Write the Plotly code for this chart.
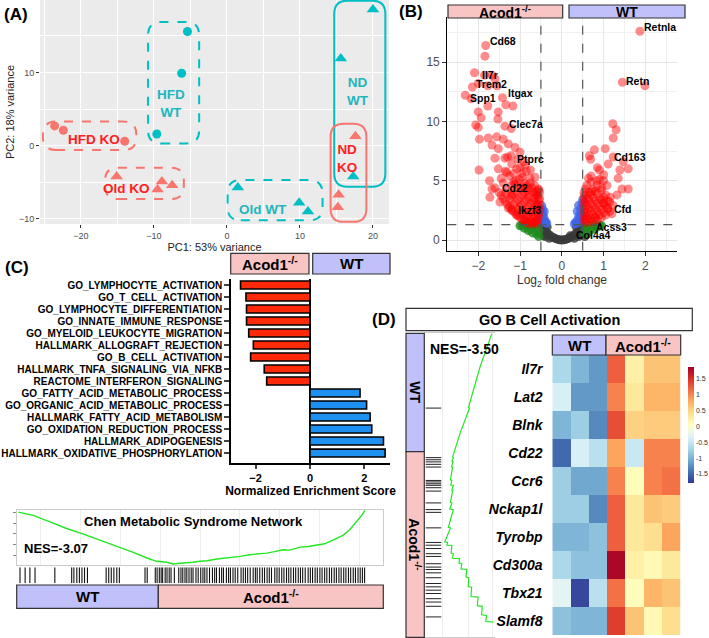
import plotly.graph_objects as go

W, H = 709, 638


def px(x):
    return x / W


def py(y):
    return 1 - y / H


FONT = "Liberation Sans, Arial, Helvetica, sans-serif"
TEAL = "#00BFC4"
SALMON = "#F8766D"
LAV = "#C0C0FA"
PINK = "#F9C4C4"
KO_SUP = "Acod1<sup>-/-</sup>"

# ---------------- (A) PCA ----------------
pca_group = ["HFD WT"] * 3 + ["HFD KO"] * 3 + ["Old KO"] * 4 + ["Old WT"] * 3 + ["ND WT"] * 3 + ["ND KO"] * 3
pca_x = [-5.4, -6.2, -9.6, -23.6, -22.4, -14.0, -15.1, -8.9, -9.5, -7.5, 1.5, 9.9, 11.1, 20.0, 15.6, 17.3, 17.6, 15.3, 15.2]
pca_y = [15.6, 9.9, 1.6, 2.7, 2.1, 0.6, -4.2, -4.9, -6.0, -5.4, -5.7, -7.8, -9.0, 18.6, 11.9, -4.2, 1.3, -6.7, -8.4]
pca_groups = ["HFD WT", "HFD KO", "Old KO", "Old WT", "ND WT", "ND KO"]
pca_labels = {"HFD WT": "HFD<br>WT", "HFD KO": "HFD KO", "Old KO": "Old KO",
              "Old WT": "Old WT", "ND WT": "ND<br>WT", "ND KO": "ND<br>KO"}

# ---------------- (B) volcano ----------------
vol_red_x = [-1.82, -1.84, -2.09, -1.85, -1.67, -1.60, -2.0, -1.77, -1.55, -2.14, -2.31, -2.17, -1.42, -1.77,
             -1.34, -1.17, -2.0, -1.52, -1.93, -1.53, -2.06, -1.36, -2.0, -1.21, -1.97, -1.76, -1.56, -1.40,
             -1.67, -1.28, -1.52, -1.12, -1.0, -1.21, -1.36, -1.6, -1.52, -1.98, -1.32, -1.08, -0.88, -1.73,
             -0.76, -0.64, -1.67, -1.72, -1.48, -1.28, -1.08, -0.88, -0.68, -0.56, -0.64, -0.8, -0.96, -0.84,
             -0.56, -1.2, -1.6, -1.2,
             -1.5, -1.4, -1.3, -1.2, -1.1, -1.0, -0.9, -0.8, -0.7, -0.6, -1.3, -1.2, -1.1, -1.0, -0.9, -0.8,
             -0.7, -0.6, -0.55, -1.2, -1.1, -1.0, -0.9, -0.8, -0.7, -0.6, -0.55, -1.0, -0.9, -0.8, -0.7, -0.6,
             -0.55, -0.9, -0.8, -0.7, -0.6, -0.55, -1.1, -0.95, -0.75, -0.65, -1.25, -1.4, -1.35, -1.15, -1.0,
             -1.2, -1.05, -1.3, -0.9, -0.85, -1.45, -1.15, -0.95, -0.75, -0.62,
             -1.45, -1.35, -1.25, -1.15, -1.05, -0.95, -0.85, -0.75, -0.65, -0.58, -1.35, -1.25, -1.15, -1.05,
             -0.95, -0.85, -0.75, -0.65, -0.58, -1.15, -1.05, -0.95, -0.85, -0.75, -0.65, -0.58, -0.95, -0.85,
             -0.75, -0.65, -0.58, -0.53, -0.53, -0.53, -0.53, -0.62, -0.72, -0.82, -0.92, -1.02, -1.12,
             1.87, 1.45, 1.99, 1.22, 1.30, 1.23, 1.04, 0.78, 0.66, 0.69, 1.23, 1.11, 1.47, 1.39, 1.59, 1.35,
             0.85, 0.90, 1.0, 0.64, 0.84, 1.08, 1.44, 1.59, 1.32, 1.16, 1.23, 0.56, 0.72, 1.1,
             0.55, 0.65, 0.75, 0.85, 0.95, 1.05, 1.15, 0.55, 0.65, 0.75, 0.85, 0.95, 1.05, 0.55, 0.65, 0.75,
             0.85, 0.95, 1.05, 0.55, 0.65, 0.75, 0.85, 0.95, 0.55, 0.65, 0.75, 0.85, 0.6, 0.7, 0.9, 1.0,
             0.6, 0.8, 1.0, 1.1, 0.7,
             0.6, 0.7, 0.8, 0.9, 1.0, 1.1, 0.6, 0.7, 0.8, 0.9, 1.0, 0.6, 0.7, 0.8, 0.9, 1.0, 0.6, 0.7, 0.8,
             0.53, 0.53, 0.53, 0.53, 0.53, 1.15, 1.2, 0.95]
vol_red_y = [16.4, 15.5, 14.1, 13.9, 13.9, 13.6, 13.2, 13.0, 13.0, 12.9, 12.2, 11.9, 12.0, 11.3,
             11.4, 11.3, 10.8, 10.8, 10.3, 10.2, 9.7, 9.6, 9.5, 9.4, 8.5, 8.6, 8.7, 8.5,
             8.0, 8.1, 7.7, 7.8, 7.4, 7.1, 6.9, 6.9, 6.0, 5.9, 5.7, 6.0, 6.3, 5.0,
             5.2, 5.3, 4.3, 3.6, 3.2, 2.7, 2.1, 1.7, 1.5, 2.2, 3.2, 3.8, 4.3, 4.6,
             4.3, 3.8, 4.4, 2.5,
             4.0, 3.5, 3.0, 2.6, 2.2, 1.9, 1.6, 1.4, 1.35, 1.4, 4.2, 3.7, 3.2, 2.8, 2.4, 2.1,
             1.8, 1.7, 2.0, 4.6, 4.1, 3.6, 3.2, 2.8, 2.5, 2.4, 2.7, 4.4, 4.0, 3.6, 3.2, 3.0,
             3.4, 4.8, 4.4, 4.0, 3.8, 4.2, 5.0, 5.3, 4.8, 4.6, 5.4, 4.8, 5.8, 5.6, 6.1,
             6.4, 6.8, 7.0, 6.6, 5.8, 5.2, 4.9, 5.6, 5.9, 3.9,
             3.75, 3.25, 2.8, 2.4, 2.05, 1.75, 1.5, 1.5, 1.55, 1.6, 3.95, 3.45, 3.0, 2.6,
             2.25, 1.95, 1.95, 2.05, 2.3, 3.9, 3.4, 2.95, 2.6, 2.35, 2.6, 2.9, 3.8, 3.4,
             3.1, 3.5, 3.7, 2.5, 3.0, 3.5, 4.0, 4.1, 4.4, 4.2, 4.5, 5.1, 4.7,
             17.6, 13.3, 13.0, 9.8, 9.3, 8.6, 7.7, 7.6, 7.1, 6.8, 7.0, 6.4, 6.6, 5.9, 6.0, 5.2,
             6.1, 5.9, 5.5, 5.2, 5.0, 4.6, 4.3, 4.3, 3.8, 3.6, 2.9, 4.3, 4.1, 2.6,
             1.5, 1.5, 1.55, 1.7, 1.9, 2.1, 2.4, 2.0, 2.1, 2.2, 2.4, 2.6, 2.9, 2.6, 2.7, 2.9,
             3.1, 3.4, 3.8, 3.2, 3.4, 3.6, 3.9, 4.2, 3.8, 4.0, 4.3, 4.6, 4.6, 4.9, 5.1, 5.0,
             1.8, 1.9, 3.1, 3.3, 5.4,
             1.75, 1.8, 1.9, 2.1, 2.3, 2.7, 2.35, 2.45, 2.6, 2.8, 3.1, 2.95, 3.05, 3.3, 3.5, 3.6, 3.5, 3.8, 4.1,
             1.7, 2.3, 2.9, 3.5, 4.0, 3.2, 2.2, 4.4]
vol_blue_x = [-0.5, -0.48, -0.46, -0.45, -0.43, -0.42, -0.40, -0.38, -0.36, -0.47, -0.44, -0.49,
              0.30, 0.33, 0.35, 0.38, 0.41, 0.44, 0.46, 0.48, 0.5, 0.45, 0.48, 0.42, 0.37, 0.40]
vol_blue_y = [2.4, 2.9, 2.6, 2.2, 1.9, 2.4, 1.6, 1.5, 1.4, 2.0, 1.5, 1.7,
              1.35, 1.5, 1.4, 1.7, 2.0, 2.3, 2.7, 3.1, 3.4, 1.8, 2.2, 1.5, 2.4, 2.9]
vol_green_x = [-1.0, -0.9, -0.8, -0.7, -0.6, -0.55, -0.85, -0.7, -0.6, -0.55, -0.75, -0.95,
               0.55, 0.65, 0.75, 0.85, 0.95, 0.6, 0.7, 0.55, 0.8, 0.9, 0.7]
vol_green_y = [1.2, 1.0, 0.8, 0.6, 0.5, 0.3, 1.2, 1.1, 1.0, 0.8, 0.9, 1.25,
               0.5, 0.7, 0.9, 1.1, 1.2, 1.0, 1.2, 0.9, 1.2, 1.25, 1.0]
vol_grey_x = [-0.5, -0.45, -0.4, -0.35, -0.3, -0.25, -0.2, -0.15, -0.1, -0.05, 0.0, 0.05, 0.1, 0.15, 0.2,
              0.25, 0.3, 0.35, 0.4, 0.45, 0.5, -0.5, -0.4, 0.4, 0.5, -0.45, -0.3, 0.3, 0.55, 0.6, 0.45,
              -0.35, 0.2, 0.35, 0.5]
vol_grey_y = [1.2, 1.0, 0.8, 0.6, 0.45, 0.3, 0.2, 0.12, 0.05, 0.02, 0.0, 0.02, 0.05, 0.12, 0.2,
              0.3, 0.45, 0.6, 0.8, 1.0, 1.2, 0.6, 0.3, 0.3, 0.6, 0.4, 0.15, 0.15, 0.3, 0.5, 0.55,
              1.1, 0.35, 1.1, 0.9]
vol_genes = ["Retnla", "Retn", "Cd68", "Il7r", "Trem2", "Spp1", "Itgax", "Clec7a", "Ptprc", "Cd22",
             "Ikzf3", "Cd163", "Cfd", "Acss3", "Col4a4"]
vol_gene_x = [1.87, 1.45, -1.82, -2.09, -2.14, -2.31, -1.42, -1.53, -1.21, -1.6, -1.2, 1.11, 1.1, 0.7, 0.25]
vol_gene_y = [17.6, 13.3, 16.4, 14.1, 12.9, 12.2, 12.0, 10.2, 7.1, 4.4, 2.5, 6.9, 2.6, 1.0, 0.35]
fc_cut, p_cut = 0.5, 1.3

# ---------------- (C) GSEA bars ----------------
gsea_terms = ["GO_LYMPHOCYTE_ACTIVATION", "GO_T_CELL_ACTIVATION", "GO_LYMPHOCYTE_DIFFERENTIATION",
              "GO_INNATE_IMMUNE_RESPONSE", "GO_MYELOID_LEUKOCYTE_MIGRATION", "HALLMARK_ALLOGRAFT_REJECTION",
              "GO_B_CELL_ACTIVATION", "HALLMARK_TNFA_SIGNALING_VIA_NFKB", "REACTOME_INTERFERON_SIGNALING",
              "GO_FATTY_ACID_METABOLIC_PROCESS", "GO_ORGANIC_ACID_METABOLIC_PROCESS",
              "HALLMARK_FATTY_ACID_METABOLISM", "GO_OXIDATION_REDUCTION_PROCESS", "HALLMARK_ADIPOGENESIS",
              "HALLMARK_OXIDATIVE_PHOSPHORYLATION"]
gsea_nes = [-2.55, -2.35, -2.33, -2.33, -2.25, -2.08, -2.18, -1.68, -1.59, 1.84, 2.08, 2.21, 2.27, 2.70, 2.76]

# Chen metabolic syndrome running ES
chen_rank = [0.4, 4.5, 9.1, 13.6, 18.2, 22.7, 27.3, 31.8, 35.5, 38.2, 40.9, 42.7, 44.5, 46.4, 48.0, 50.0,
             52.0, 54.6, 56.5, 59.1, 61.0, 63.6, 66.0, 68.2, 70.0, 72.7, 74.5, 77.3, 79.5, 81.8, 84.0,
             86.4, 88.0, 89.1, 90.9, 92.7, 94.1, 95.0]
chen_es = [-0.018, -0.055, -0.127, -0.2, -0.262, -0.327, -0.393, -0.465, -0.527, -0.564, -0.575, -0.593,
           -0.585, -0.582, -0.575, -0.564, -0.558, -0.538, -0.532, -0.516, -0.51, -0.491, -0.485, -0.473,
           -0.46, -0.436, -0.44, -0.407, -0.40, -0.382, -0.37, -0.327, -0.30, -0.273, -0.211, -0.127,
           -0.055, 0.0]
chen_hits = [0.9, 2.3, 3.6, 5.0, 10.4, 15.0, 15.6, 16.4, 17.1, 17.8, 18.5, 19.3, 24.4, 25.1, 25.8, 26.5,
             27.3, 28.0, 35.0, 35.6,
             37.8, 38.3, 38.9, 39.4, 39.8, 40.5, 41.0, 41.6, 42.1, 43.0, 44.2, 44.8, 45.3, 45.9, 46.4, 47.0,
             47.6, 48.1, 48.9, 49.5, 50.2, 50.8, 51.3, 51.9, 52.6, 53.4, 54.0, 54.5, 55.3, 55.9, 56.4, 57.2,
             57.8, 58.3, 59.0, 59.6, 60.3, 61.2, 61.8, 62.4, 63.0, 63.7, 64.5, 65.1, 65.6, 66.3, 67.0, 67.6,
             68.3, 68.9, 69.5, 70.4, 71.0, 71.6, 72.3, 72.9, 73.6, 74.2, 74.8, 75.5, 76.1, 76.8, 77.4, 78.0,
             78.7, 79.5, 80.1, 80.7, 81.4, 82.0, 82.7, 83.3, 84.0, 84.6, 85.3, 85.9, 86.6, 87.2, 87.9, 88.5,
             89.2, 89.8, 90.5, 91.1, 91.8, 92.4, 93.1, 93.7, 94.3, 94.9]

# ---------------- (D) GO B cell activation ----------------
bcell_rank = [0.1, 11.1, 24.4, 24.6, 33.0, 40.7, 40.9, 42.1, 42.3, 43.9, 44.0, 48.2, 48.4, 49.9, 50.0,
              51.7, 51.9, 55.6, 55.8, 57.8, 58.0, 63.8, 64.0, 68.6, 68.8, 69.7, 69.8, 72.3, 72.5, 74.0,
              74.1, 75.6, 75.8, 77.5, 77.7, 80.2, 80.4, 83.3, 83.5, 86.6, 86.8, 89.6, 89.8, 92.6, 92.8,
              94.8, 95.0]
bcell_es = [0.955, 0.788, 0.625, 0.64, 0.505, 0.40, 0.41, 0.39, 0.405, 0.385, 0.40, 0.37, 0.39, 0.375,
            0.41, 0.39, 0.40, 0.37, 0.39, 0.36, 0.41, 0.34, 0.37, 0.29, 0.33, 0.32, 0.39, 0.38, 0.41, 0.40,
            0.50, 0.49, 0.53, 0.52, 0.60, 0.59, 0.63, 0.62, 0.67, 0.66, 0.76, 0.75, 0.82, 0.81, 0.88,
            0.87, 0.976]
bcell_hits = [24.6, 40.9, 41.6, 42.3, 43.1, 44.0, 48.4, 48.9, 49.5, 50.0, 50.8, 51.9, 55.8, 58.0, 58.9,
              64.0, 68.8, 69.7, 70.8, 72.5, 73.4, 75.8, 76.9, 77.7, 78.8, 80.4, 82.3, 83.4, 84.5, 85.6,
              87.3, 88.4, 89.8, 93.3]

hm_genes = ["Il7r", "Lat2", "Blnk", "Cd22", "Ccr6", "Nckap1l", "Tyrobp", "Cd300a", "Tbx21", "Slamf8"]
hm_samples = ["WT1", "WT2", "WT3", "KO1", "KO2", "KO3", "KO4"]
hm_z = [
    [-0.7, -1.0, -1.2, 1.2, 0.2, 0.6, 0.6],
    [-0.4, -1.2, -1.2, 1.0, 0.3, 0.7, 0.7],
    [-1.0, -0.8, -1.3, 1.3, 0.5, 0.55, 0.55],
    [-1.5, -0.4, -0.6, 0.8, -0.5, 1.0, 1.0],
    [-0.8, -1.1, -1.1, 1.0, 0.05, 1.0, 1.1],
    [-0.8, -0.8, -1.3, 1.2, 0.3, 0.6, 0.55],
    [-1.0, -1.0, -0.9, 1.2, 0.3, 0.4, 0.8],
    [-0.7, -0.9, -0.9, 1.8, 0.2, 0.1, 0.3],
    [-0.3, -1.7, -0.6, 1.1, 0.05, 0.7, 0.6],
    [-0.9, -1.0, -1.0, 1.4, 0.6, 0.1, 0.4],
]
rdylbu_r = ["#313695", "#4575B4", "#74ADD1", "#ABD9E9", "#E0F3F8", "#FFFFBF",
            "#FEE090", "#FDAE61", "#F46D43", "#D73027", "#A50026"]

fig = go.Figure()
shapes = []
annotations = []


def ann(x, y, text, size=12, color="black", bold=True, xanchor="center", angle=0, xref="paper", yref="paper",
        italic=False, **kw):
    t = text
    if italic:
        t = "<i>" + t + "</i>"
    if bold:
        t = "<b>" + t + "</b>"
    annotations.append(dict(x=x, y=y, xref=xref, yref=yref, text=t, showarrow=False, xanchor=xanchor,
                            yanchor="middle", textangle=angle, font=dict(size=size, color=color, family=FONT),
                            **kw))


def box(x0, y0, x1, y1, fill, text="", size=15, angle=0, lw=1.2):
    shapes.append(dict(type="rect", xref="paper", yref="paper", x0=px(x0), x1=px(x1), y0=py(y1), y1=py(y0),
                       fillcolor=fill, line=dict(color="#333333", width=lw), layer="above"))
    if text:
        ann(px((x0 + x1) / 2), py((y0 + y1) / 2), text, size=size, angle=angle)


# ---- (A) ----
shapes.append(dict(type="rect", xref="x domain", yref="y domain", x0=0, x1=1, y0=0, y1=1,
                   fillcolor="#EBEBEB", line=dict(width=0), layer="below"))
group_pad = {"HFD WT": (1.2, 1.6, 1.3, 1.3), "HFD KO": (1.6, 1.6, 1.2, 0.6), "Old KO": (1.6, 1.6, 1.3, 1.2),
             "Old WT": (1.4, 2.0, 1.2, 1.0), "ND WT": (0.9, 1.7, 1.4, 1.2), "ND KO": (1.0, 1.5, 2.0, 1.7)}
label_pos = {"HFD WT": (-7.7, 5.7), "HFD KO": (-18.2, 0.8), "Old KO": (-13.7, -5.8),
             "Old WT": (5.0, -8.7), "ND WT": (18.0, 7.4), "ND KO": (16.4, -1.7)}


def rrect(x0, x1, y0, y1, r):
    return (f"M{x0 + r},{y0} L{x1 - r},{y0} Q{x1},{y0} {x1},{y0 + r} L{x1},{y1 - r} Q{x1},{y1} {x1 - r},{y1} "
            f"L{x0 + r},{y1} Q{x0},{y1} {x0},{y1 - r} L{x0},{y0 + r} Q{x0},{y0} {x0 + r},{y0} Z")


for g in pca_groups:
    xs = [x for x, gg in zip(pca_x, pca_group) if gg == g]
    ys = [y for y, gg in zip(pca_y, pca_group) if gg == g]
    wt = g.endswith("WT")
    col = TEAL if wt else SALMON
    fig.add_trace(go.Scatter(x=xs, y=ys, mode="markers", xaxis="x", yaxis="y",
                             marker=dict(color=col, size=9 if g.startswith("HFD") else 11,
                                         symbol="circle" if g.startswith("HFD") else "triangle-up"),
                             hoverinfo="skip"))
    pl, pr, pb, pt = group_pad[g]
    shapes.append(dict(type="path", xref="x", yref="y",
                       path=rrect(min(xs) - pl, max(xs) + pr, min(ys) - pb, max(ys) + pt, 1.8),
                       line=dict(color=col, width=2, dash="solid" if g.startswith("ND") else "dash")))
    lx, ly = label_pos[g]
    ann(lx, ly, pca_labels[g], size=13.5, color="#1DB6BF" if wt else "#FF2020", xref="x", yref="y")

ann(px(16), py(14), "(A)", size=17)
ann(px(411), py(12), "(B)", size=17)
ann(px(17), py(267), "(C)", size=17)
ann(px(384), py(320), "(D)", size=17)

# ---- (B) ----
for xs, ys, col, op in [(vol_grey_x, vol_grey_y, "#3A3A3A", 0.8), (vol_green_x, vol_green_y, "#1E8C1E", 0.8),
                        (vol_blue_x, vol_blue_y, "#3C64E6", 0.7), (vol_red_x, vol_red_y, "#FF0000", 0.45)]:
    fig.add_trace(go.Scatter(x=xs, y=ys, mode="markers", xaxis="x2", yaxis="y2",
                             marker=dict(color=col, size=9, opacity=op, line=dict(width=0)),
                             hoverinfo="skip"))
label_shift = {"Retnla": (2, 4), "Retn": (2, 1), "Cd68": (2, 4), "Il7r": (6, -2), "Trem2": (2, 3),
               "Spp1": (3, -3), "Itgax": (4, 5), "Clec7a": (9, -5), "Ptprc": (4, -3), "Cd22": (5, 0),
               "Ikzf3": (4, 0), "Cd163": (4, 1), "Cfd": (4, 0), "Acss3": (3, 1), "Col4a4": (2, 1)}
for gname, gx, gy in zip(vol_genes, vol_gene_x, vol_gene_y):
    dx, dy = label_shift[gname]
    ann(gx, gy, gname, size=10.5, xref="x2", yref="y2", xanchor="left", xshift=dx, yshift=dy)
for xv in (-fc_cut, fc_cut):
    shapes.append(dict(type="line", xref="x2", yref="y2 domain", x0=xv, x1=xv, y0=0, y1=1,
                       line=dict(color="#555555", width=1.2, dash="dash")))
shapes.append(dict(type="line", xref="x2 domain", yref="y2", x0=0, x1=1, y0=p_cut, y1=p_cut,
                   line=dict(color="#555555", width=1.2, dash="dash")))
box(448, 5, 562.7, 18, PINK, KO_SUP, size=14)
box(569, 5, 685, 18, LAV, "WT", size=14)

# ---- (C) bars ----
fig.add_trace(go.Bar(x=gsea_nes, y=list(range(len(gsea_terms))), orientation="h", xaxis="x3", yaxis="y3",
                     width=0.66, marker=dict(color=["#FF2A0A" if v < 0 else "#1E90F0" for v in gsea_nes],
                                             line=dict(color="black", width=1.6)),
                     hoverinfo="skip"))
box(230.7, 253.3, 309, 274, PINK, KO_SUP, size=15)
box(312.7, 253.3, 390, 274, LAV, "WT", size=15)

# ---- (C) Chen GSEA ----
fig.add_trace(go.Scatter(x=chen_rank, y=chen_es, mode="lines", xaxis="x4", yaxis="y4",
                         line=dict(color="#22E822", width=1.4), hoverinfo="skip", cliponaxis=False))
hx, hy = [], []
for h in chen_hits:
    hx += [h, h, None]
    hy += [0, 1, None]
fig.add_trace(go.Scatter(x=hx, y=hy, mode="lines", xaxis="x5", yaxis="y5",
                         line=dict(color="#111111", width=1.1), hoverinfo="skip"))
ann(px(193), py(521), "Chen Metabolic Syndrome Network", size=13)
ann(px(22), py(548), "NES=-3.07", size=13, xanchor="left")
box(16.7, 585, 158.3, 608.3, LAV, "WT", size=15)
box(158.3, 585, 383.3, 608.3, PINK, KO_SUP, size=15)

# ---- (D) ----
box(406, 308.3, 692.3, 330.7, "white", "GO B Cell Activation", size=14.5)
box(406, 333.3, 424.3, 451.7, LAV, "WT", size=14, angle=90)
box(406, 451.7, 424.3, 637.3, PINK, KO_SUP, size=14, angle=90)
fig.add_trace(go.Scatter(x=bcell_es, y=bcell_rank, mode="lines", xaxis="x6", yaxis="y6",
                         line=dict(color="#22E822", width=1.2), hoverinfo="skip", cliponaxis=False))
dx_, dy_ = [0.02, 0.24, None], [24.6, 24.6, None]
for h in bcell_hits[1:]:
    dx_ += [0.02, 0.24, None]
    dy_ += [h, h, None]
fig.add_trace(go.Scatter(x=dx_, y=dy_, mode="lines", xaxis="x6", yaxis="y6",
                         line=dict(color="#222222", width=1), hoverinfo="skip"))
ann(px(428), py(349), "NES=-3.50", size=14, xanchor="left")

fig.add_trace(go.Heatmap(z=hm_z, x=hm_samples, y=hm_genes, xaxis="x7", yaxis="y7",
                         colorscale=[[i / 10, c] for i, c in enumerate(rdylbu_r)], zmin=-1.8, zmax=1.85,
                         hoverinfo="skip",
                         colorbar=dict(x=px(687.7), xanchor="left", y=py(425.5), yanchor="middle",
                                       thickness=6, len=116, lenmode="pixels", outlinewidth=0,
                                       tickvals=[-1.5, -1, -0.5, 0, 0.5, 1, 1.5],
                                       ticktext=["-1.5", "-1", "-0.5", "0", "0.5", "1", "1.5"],
                                       ticks="", tickfont=dict(size=7, color="#333333", family=FONT),
                                       xpad=0, ypad=0)))
box(552.3, 335, 606, 355, LAV, "WT", size=15)
box(606, 335, 680.7, 355, PINK, KO_SUP, size=15)

grey_tick = dict(size=9, color="#4D4D4D", family=FONT)
fig.update_layout(
    width=W, height=H, margin=dict(l=0, r=0, t=0, b=0), paper_bgcolor="white", plot_bgcolor="white",
    showlegend=False, font=dict(family=FONT), shapes=shapes, annotations=annotations,
    xaxis=dict(domain=[px(40), px(389)], range=[-25.6, 22.2], tickvals=[-20, -10, 0, 10, 20],
               showgrid=True, gridcolor="white", gridwidth=1.1, zeroline=False,
               minor=dict(tickvals=[-25, -15, -5, 5, 15], showgrid=True, gridcolor="white", gridwidth=0.5),
               ticks="outside", ticklen=3, tickcolor="#333333", tickfont=grey_tick, anchor="y",
               title=dict(text="PC1: 53% variance", font=dict(size=11, color="#222222"), standoff=2)),
    yaxis=dict(domain=[py(224), py(0)], range=[-10.7, 19.9], tickvals=[-10, 0, 10],
               showgrid=True, gridcolor="white", gridwidth=1.1, zeroline=False,
               minor=dict(tickvals=[-5, 5, 15], showgrid=True, gridcolor="white", gridwidth=0.5),
               ticks="outside", ticklen=3, tickcolor="#333333", tickfont=grey_tick, anchor="x",
               title=dict(text="PC2: 18% variance", font=dict(size=11, color="#222222"), standoff=2)),
    xaxis2=dict(domain=[px(447.3), px(676.7)], range=[-2.74, 2.75], tickvals=[-2, -1, 0, 1, 2],
                showgrid=True, gridcolor="#E6E6E6", zeroline=False, anchor="y2",
                minor=dict(tickvals=[-2.5, -1.5, -0.5, 0.5, 1.5, 2.5], showgrid=True, gridcolor="#F0F0F0"),
                showline=True, linecolor="black", linewidth=1.3, ticks="outside", ticklen=4,
                tickcolor="#333333", tickfont=dict(size=12, color="#4D4D4D"),
                title=dict(text="Log<sub>2</sub> fold change", font=dict(size=12, color="#333333"), standoff=3)),
    yaxis2=dict(domain=[py(250.7), py(17)], range=[-0.9, 18.8], tickvals=[0, 5, 10, 15],
                showgrid=True, gridcolor="#E6E6E6", zeroline=False, anchor="x2",
                minor=dict(tickvals=[2.5, 7.5, 12.5, 17.5], showgrid=True, gridcolor="#F0F0F0"),
                showline=True, linecolor="black", linewidth=1.3, ticks="outside", ticklen=4,
                tickcolor="#333333", tickfont=dict(size=12, color="#4D4D4D")),
    xaxis3=dict(domain=[px(231), px(390)], range=[-2.9, 2.94], tickvals=[-2, 0, 2], anchor="y3",
                showgrid=False, zeroline=True, zerolinecolor="black", zerolinewidth=1.5,
                showline=True, linecolor="black", linewidth=1.5, ticks="outside", ticklen=4,
                tickwidth=1.5, tickfont=dict(size=11, color="black", weight="bold"),
                title=dict(text="<b>Normalized Enrichment Score</b>", font=dict(size=12, color="black"),
                           standoff=2)),
    yaxis3=dict(domain=[py(463), py(279)], range=[14.83, -0.5], tickvals=list(range(len(gsea_terms))),
                ticktext=gsea_terms, anchor="x3", showgrid=False, zeroline=False, showline=True,
                linecolor="black", linewidth=1.5, ticks="outside", ticklen=5, tickwidth=1.5,
                tickfont=dict(size=10, color="black", weight="bold")),
    xaxis4=dict(domain=[px(16.7), px(383.3)], range=[0, 100], anchor="y4", showticklabels=False,
                tickvals=[6.4, 17.3, 28.2, 39.1, 50.0, 60.9, 71.8, 82.7, 93.6], showgrid=True,
                gridcolor="#EEEEEE", zeroline=False, showline=True, linecolor="#CCCCCC", mirror=True, ticks=""),
    yaxis4=dict(domain=[py(565), py(510)], range=[-0.605, 0.005], anchor="x4", showticklabels=False,
                tickvals=[-0.02, -0.14, -0.26, -0.38, -0.5], showgrid=False, zeroline=False,
                showline=True, linecolor="#CCCCCC", mirror=True, ticks="outside", ticklen=3,
                tickcolor="#888888"),
    xaxis5=dict(domain=[px(16.7), px(383.3)], range=[0, 100], anchor="y5", visible=False),
    yaxis5=dict(domain=[py(583.3), py(567.3)], range=[0, 1], anchor="x5", visible=False),
    xaxis6=dict(domain=[px(424.3), px(495)], range=[0, 1], anchor="y6", showticklabels=False,
                tickvals=[0.26, 0.62, 0.97], showgrid=True, gridcolor="#EEEEEE", zeroline=False,
                showline=True, linecolor="#CCCCCC", mirror=True, ticks=""),
    yaxis6=dict(domain=[py(637.3), py(333.3)], range=[100, 0], anchor="x6", showticklabels=False,
                showgrid=False, zeroline=False, ticks=""),
    xaxis7=dict(domain=[px(552.3), px(680.7)], anchor="y7", showticklabels=False, ticks="",
                showgrid=False, zeroline=False),
    yaxis7=dict(domain=[py(635), py(355)], anchor="x7", autorange="reversed", showgrid=False,
                zeroline=False, ticks="outside", ticklen=6, tickcolor="rgba(0,0,0,0)",
                tickvals=hm_genes, ticktext=["<b><i>" + g + "</i></b>" for g in hm_genes],
                tickfont=dict(size=14, color="black")),
)

# the page's default 8px body margin would shift the whole figure
fig.write_html("out.html", config={"displayModeBar": False},
               post_script="document.body.style.margin='0';document.body.style.overflow='hidden';")
